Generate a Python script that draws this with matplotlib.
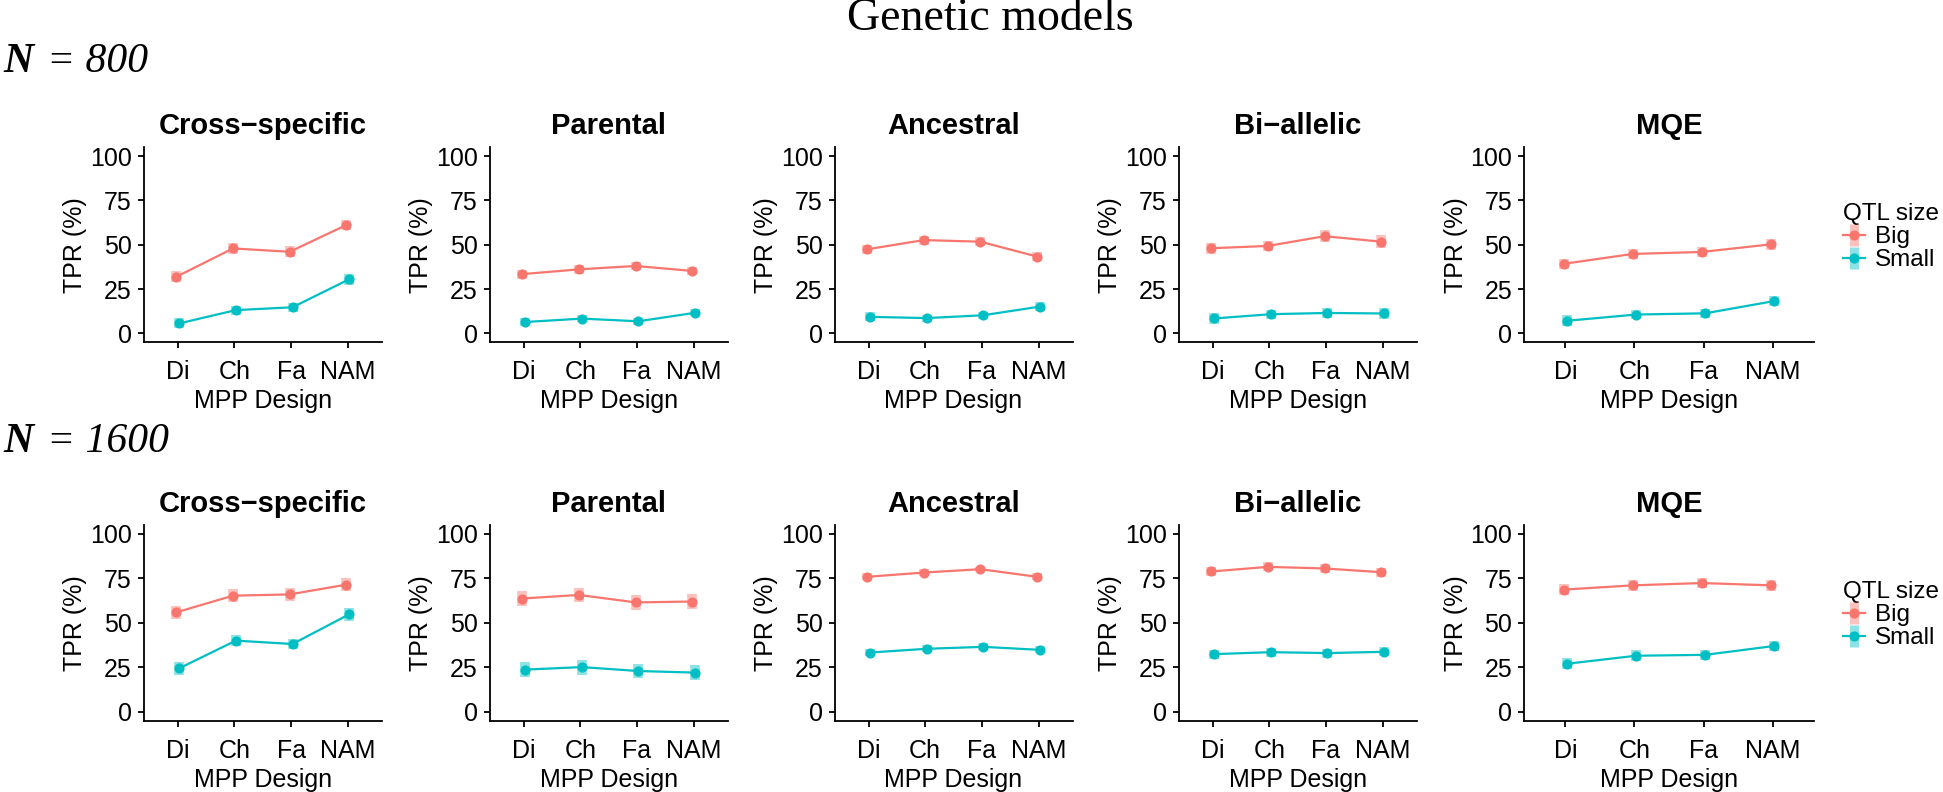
import matplotlib
matplotlib.use("Agg")
import matplotlib.pyplot as plt
from matplotlib.lines import Line2D
from matplotlib.legend_handler import HandlerTuple

plt.rcParams['font.family'] = ['Liberation Sans', 'DejaVu Sans']

# ---------------- data ----------------
designs = ["Di", "Ch", "Fa", "NAM"]
models = ["Cross\u2212specific", "Parental", "Ancestral", "Bi\u2212allelic", "MQE"]
sizes = ["Big", "Small"]
sample_sizes = ["800", "1600"]
yticks = [0, 25, 50, 75, 100]

# rows = models, columns = designs
tpr_big_800 = [[31.9, 47.9, 46.0, 61.1],
               [33.4, 36.1, 38.0, 35.2],
               [47.4, 52.6, 51.7, 43.3],
               [48.0, 49.3, 54.8, 51.7],
               [39.2, 44.8, 45.9, 50.2]]
tpr_small_800 = [[5.6, 13.1, 14.7, 30.5],
                 [6.4, 8.3, 6.8, 11.6],
                 [9.3, 8.6, 10.2, 15.1],
                 [8.4, 10.8, 11.5, 11.2],
                 [7.1, 10.6, 11.3, 18.2]]
tpr_big_1600 = [[55.9, 65.3, 66.0, 71.5],
                [63.7, 65.7, 61.5, 62.0],
                [75.9, 78.3, 80.2, 75.9],
                [78.9, 81.5, 80.6, 78.5],
                [68.7, 71.1, 72.4, 71.1]]
tpr_small_1600 = [[24.4, 40.0, 38.1, 54.8],
                  [23.7, 25.1, 22.9, 22.0],
                  [33.3, 35.4, 36.5, 34.8],
                  [32.4, 33.5, 33.0, 33.7],
                  [27.0, 31.5, 32.0, 37.0]]

err_big_800 = [[3.2, 3.0, 3.0, 3.0],
               [2.5, 2.5, 2.5, 2.5],
               [2.5, 2.5, 2.5, 2.5],
               [3.0, 3.0, 3.5, 3.5],
               [3.0, 3.0, 3.0, 3.0]]
err_small_800 = [[2.8, 2.5, 2.5, 3.0],
                 [2.0, 2.0, 2.0, 2.0],
                 [2.5, 2.0, 2.0, 2.5],
                 [3.0, 2.5, 3.0, 3.0],
                 [3.0, 2.5, 2.5, 3.0]]
err_big_1600 = [[3.5, 3.5, 3.5, 3.5],
                [4.0, 4.0, 4.0, 4.0],
                [2.0, 2.0, 1.5, 2.0],
                [2.5, 2.5, 2.5, 2.5],
                [3.0, 3.0, 3.0, 3.0]]
err_small_1600 = [[3.5, 3.0, 3.0, 3.5],
                  [4.2, 4.2, 4.2, 4.2],
                  [2.0, 2.0, 2.0, 2.0],
                  [2.5, 2.5, 2.5, 2.5],
                  [3.0, 3.0, 3.0, 3.0]]

rows = [
    (sample_sizes[0], tpr_big_800, tpr_small_800, err_big_800, err_small_800),
    (sample_sizes[1], tpr_big_1600, tpr_small_1600, err_big_1600, err_small_1600),
]

# ---------------- style / layout ----------------
colors = {"Big": "#F8766D", "Small": "#00BFC4"}
dodge = {"Big": -0.025, "Small": 0.025}

FW, FH = 1943, 792
DPI = 100
col_left = [143.75, 489.7, 834.5, 1178.7, 1524.0]
col_width = [238, 238, 238, 238, 290]
row_top = [147.2, 525.1]
row_bottom = [342.2, 720.6]
n_baseline = [72, 452]
legend_top = [203, 581]

fig = plt.figure(figsize=(FW / DPI, FH / DPI), dpi=DPI)

fig.text(990 / FW, 1 - 19 / FH, "Genetic models", ha="center", va="center",
         family=["Liberation Serif", "DejaVu Serif"], fontsize=33)

TICK_FS = 18
for r, (nlab, big, small, ebig, esmall) in enumerate(rows):
    yb = 1 - n_baseline[r] / FH
    fig.text(3 / FW, yb, "N", ha="left", va="baseline", fontsize=30,
             family=["Liberation Serif", "DejaVu Serif"], style="italic", weight="bold")
    fig.text(47 / FW, yb, "= " + nlab, ha="left", va="baseline", fontsize=30,
             family=["Liberation Serif", "DejaVu Serif"], style="italic")
    for c, model in enumerate(models):
        l = col_left[c] / FW
        w = col_width[c] / FW
        b = 1 - row_bottom[r] / FH
        h = (row_bottom[r] - row_top[r]) / FH
        ax = fig.add_axes([l, b, w, h])
        xs = list(range(1, len(designs) + 1))
        for size, vals, errs in (("Big", big[c], ebig[c]), ("Small", small[c], esmall[c])):
            xx = [x + dodge[size] for x in xs]
            lo = [v - e for v, e in zip(vals, errs)]
            hi = [v + e for v, e in zip(vals, errs)]
            ax.vlines(xx, lo, hi, colors=colors[size], linewidth=7, alpha=0.45, zorder=2)
            ax.plot(xx, vals, color=colors[size], lw=1.6, marker="o", ms=6.3, zorder=3)
        ax.set_xlim(0.4, len(designs) + 0.6)
        ax.set_ylim(-5, 105)
        ax.set_xticks(xs)
        ax.set_xticklabels(designs)
        ax.set_yticks(yticks)
        for s in ("top", "right"):
            ax.spines[s].set_visible(False)
        for s in ("left", "bottom"):
            ax.spines[s].set_linewidth(1.3)
            ax.spines[s].set_color("black")
        ax.tick_params(axis="both", length=4, width=1.3, color="black",
                       labelsize=TICK_FS, labelcolor="black")
        ax.tick_params(axis="x", pad=9)
        ax.tick_params(axis="y", pad=4.5)
        ax.set_xlabel("MPP Design", fontsize=TICK_FS, labelpad=3.5)
        ax.set_ylabel("TPR (%)", fontsize=TICK_FS, labelpad=2)
        ax.set_title(model, fontsize=21, weight="bold", pad=9.5)
        ax.patch.set_alpha(0)

    handles = []
    for size in sizes:
        bar = Line2D([], [], linestyle="none", marker="|", markersize=16,
                     markeredgewidth=6.5, color=colors[size], alpha=0.45)
        ln = Line2D([], [], color=colors[size], lw=1.6, marker="o", ms=6.3)
        handles.append((bar, ln))
    leg = fig.legend(handles, sizes, title="QTL size", loc="upper left",
                     bbox_to_anchor=(1843 / FW, 1 - legend_top[r] / FH),
                     frameon=False, fontsize=17.5, title_fontsize=17.5,
                     handler_map={tuple: HandlerTuple(ndivide=1, pad=0)},
                     handlelength=0.9, handletextpad=0.4, labelspacing=0.05,
                     borderpad=0, borderaxespad=0, alignment="left")

fig.savefig("out.png", dpi=DPI)
